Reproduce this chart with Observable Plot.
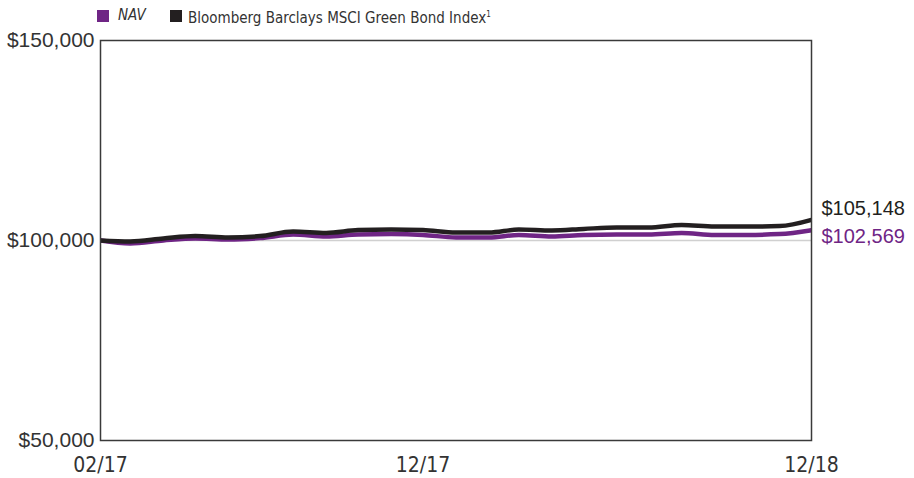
<!DOCTYPE html>
<html>
<head>
<meta charset="utf-8">
<script src="https://cdn.jsdelivr.net/npm/d3@7"></script>
<script src="https://cdn.jsdelivr.net/npm/@observablehq/plot@0.6"></script>
<style>
  html, body { margin: 0; padding: 0; background: #fff; }
  #wrap { width: 914px; height: 478px; position: relative; }
  #legend { height: 18px; position: relative; font-family: "Liberation Sans Narrow", "DejaVu Sans Condensed", "Roboto", sans-serif; font-size: 15px; color: #333; }
  .sw { position: absolute; top: 10px; width: 12px; height: 12px; }
  .lab { position: absolute; top: 6px; line-height: 18px; white-space: nowrap; }
  svg { display: block; }
</style>
</head>
<body>
<div id="wrap">
  <div id="legend">
    <div class="sw" style="left:97px; background:#6f2585;"></div>
    <div class="lab" style="left:118px; font-style:italic;">NAV</div>
    <div class="sw" style="left:170px; background:#231f20;"></div>
    <div class="lab" style="left:188px;">Bloomberg Barclays MSCI Green Bond Index<sup style="font-size:8px; vertical-align: 6px;">1</sup></div>
  </div>
  <div id="chart"></div>
</div>
<script>
const months = ["2017-02","2017-03","2017-04","2017-05","2017-06","2017-07","2017-08","2017-09","2017-10","2017-11","2017-12",
                "2018-01","2018-02","2018-03","2018-04","2018-05","2018-06","2018-07","2018-08","2018-09","2018-10","2018-11","2018-12"];
const navValues = [100000, 99250, 100000, 100500, 100250, 100600, 101500, 101000, 101500, 101600, 101400,
                   100750, 100750, 101400, 101000, 101400, 101500, 101500, 101900, 101400, 101400, 101600, 102569];
const indexValues = [100000, 99750, 100500, 101100, 100750, 101100, 102250, 101900, 102600, 102750, 102600,
                     102000, 102000, 102750, 102500, 102900, 103250, 103250, 103900, 103500, 103500, 103600, 105148];
const xTickMonths = ["2017-02", "2017-12", "2018-12"];
const xTickLabels = ["02/17", "12/17", "12/18"];
const yTicks = [50000, 100000, 150000];
const seriesNames = ["NAV", "Index"];
const seriesColors = ["#6f2585", "#231f20"];

const parse = d3.utcParse("%Y-%m");
const rows = [];
months.forEach((m, i) => {
  rows.push({date: parse(m), value: navValues[i], series: "NAV"});
  rows.push({date: parse(m), value: indexValues[i], series: "Index"});
});
const lastNav = {date: parse(months[months.length - 1]), value: navValues[navValues.length - 1]};
const lastIdx = {date: parse(months[months.length - 1]), value: indexValues[indexValues.length - 1]};
const tickDates = xTickMonths.map(parse);
const tickLabelMap = new Map(tickDates.map((d, i) => [+d, xTickLabels[i]]));
const fmt = d => "$" + d3.format(",")(d);
const sans = "'Liberation Sans', Arial, sans-serif";
const narrow = "'Liberation Sans Narrow', 'DejaVu Sans Condensed', sans-serif";

const chart = Plot.plot({
  width: 914,
  height: 460,
  marginTop: 22,
  marginBottom: 38,
  marginLeft: 100,
  marginRight: 103,
  style: {fontFamily: sans, fontSize: "20px", color: "#333", background: "transparent", overflow: "visible"},
  x: {type: "utc", domain: [parse(months[0]), parse(months[months.length - 1])], label: null},
  y: {domain: [50000, 150000], label: null},
  color: {domain: seriesNames, range: seriesColors},
  marks: [
    Plot.ruleY([100000], {stroke: "#d0d0d0", strokeWidth: 1.5}),
    Plot.line(rows, {x: "date", y: "value", z: "series", stroke: "series", strokeWidth: 4.5, curve: "monotone-x", strokeLinejoin: "round", strokeLinecap: "butt"}),
    Plot.frame({stroke: "#3a3a3a", strokeWidth: 1.5}),
    Plot.axisY(yTicks, {tickSize: 0, tickPadding: 6, tickFormat: fmt, fill: "#333", fontSize: 21, fontFamily: sans, label: null}),
    Plot.axisX(tickDates, {tickSize: 0, tickPadding: 17, tickFormat: d => tickLabelMap.get(+d), fill: "#333", fontSize: 21, fontFamily: narrow, label: null}),
    Plot.text([lastIdx], {x: "date", y: "value", text: d => fmt(d.value), textAnchor: "start", dx: 10, dy: -11, fill: "#231f20", fontSize: 20, fontFamily: sans}),
    Plot.text([lastNav], {x: "date", y: "value", text: d => fmt(d.value), textAnchor: "start", dx: 10, dy: 6, fill: "#6f2585", fontSize: 20, fontFamily: sans})
  ]
});
document.getElementById("chart").appendChild(chart);
</script>
</body>
</html>
